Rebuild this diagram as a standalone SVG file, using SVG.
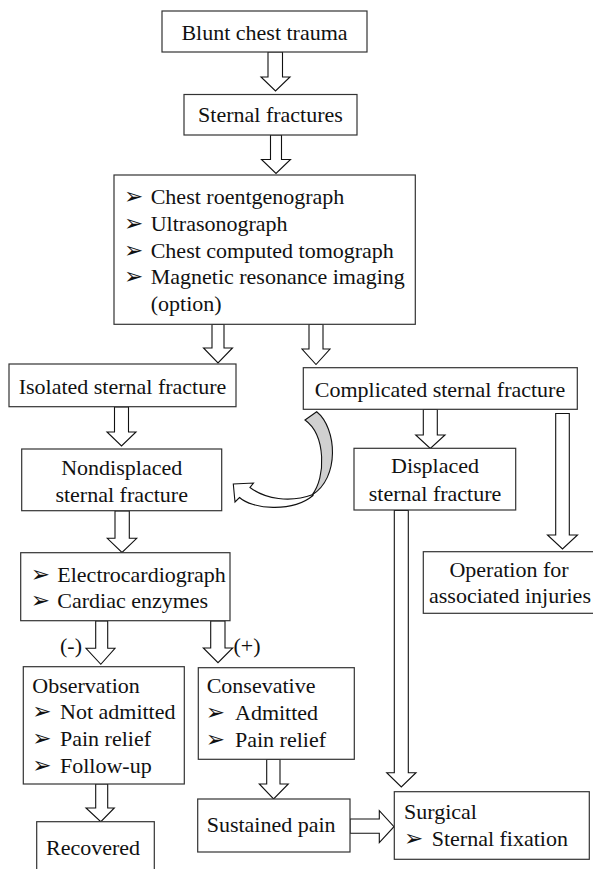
<svg xmlns="http://www.w3.org/2000/svg" width="593" height="869" viewBox="0 0 593 869">
<defs>
<style>
.box{fill:#fff;stroke:#333;stroke-width:1.2}
.arr{fill:#fff;stroke:#111;stroke-width:1.1;stroke-linejoin:miter}
text{font-family:"Liberation Serif","Times New Roman","DejaVu Serif",serif;font-size:22px;fill:#111}
.c{text-anchor:middle}
.b{font-family:"DejaVu Sans",sans-serif;font-size:23px}
</style>
</defs>
<rect width="593" height="869" fill="#fff"/>
<g id="connectors">
<polygon class="arr" points="268,52 282.5,52 282.5,77 290,77 275.5,91 261,77 268,77"/>
<polygon class="arr" points="270.5,135 281.5,135 281.5,159.5 290.5,159.5 276,173.5 261.5,159.5 270.5,159.5"/>
<polygon class="arr" points="212,324.5 224,324.5 224,348 232.5,348 218,363 203.5,348 212,348"/>
<polygon class="arr" points="309,324.5 323,324.5 323,349 330,349 316,364.5 302,349 309,349"/>
<polygon class="arr" points="114.5,407 128.5,407 128.5,432 136,432 121.5,446 107,432 114.5,432"/>
<polygon class="arr" points="423.3,409.5 437.3,409.5 437.3,435 445,435 430.3,448.5 415.7,435 423.3,435"/>
<polygon class="arr" points="555.7,413.5 569.3,413.5 569.3,535 577.5,535 562.5,549 547.5,535 555.7,535"/>
<polygon class="arr" points="115,511 129.3,511 129.3,538.3 136.7,538.3 122,552.5 107.3,538.3 115,538.3"/>
<polygon class="arr" points="95.7,621 107.7,621 107.7,648.3 115,648.3 100.8,664.3 86,648.3 95.7,648.3"/>
<polygon class="arr" points="210.7,621 225,621 225,648 232.7,648 218,662.7 203.3,648 210.7,648"/>
<polygon class="arr" points="266.7,759.5 280,759.5 280,784 288.3,784 273.6,799 259.3,784 266.7,784"/>
<polygon class="arr" points="95.7,784 107.7,784 107.7,808 114.3,808 100.8,821.7 86,808 95.7,808"/>
<polygon class="arr" points="394.3,510.5 408.3,510.5 408.3,772.7 416,772.7 401.3,787 386.7,772.7 394.3,772.7"/>
<polygon class="arr" points="350,819 379.3,819 379.3,810.7 394,826.7 379.3,842.7 379.3,833.3 350,833.3"/>
<path fill="#d0d0d0" stroke="#111" stroke-width="1.1" d="M305,420 L316.7,411.7 C337,428 340,478 312,495 C326,478 326,435 305,420 Z"/>
<path class="arr" d="M313,494.5 C290,503 265,499 250,487.5 L253.5,483 L233.3,484 L235,502 L239.5,497.5 C252,509 292,513 313,495.5 Z"/>
<text x="71" y="653.3" class="c">(-)</text>
<text x="247" y="653" class="c">(+)</text>
</g>
<g id="n1"><rect class="box" x="162" y="11" width="205" height="41"/><text x="264.5" y="40" class="c">Blunt chest trauma</text></g>
<g id="n2"><rect class="box" x="184" y="94.5" width="173" height="40.5"/><text x="270.5" y="121.7" class="c">Sternal fractures</text></g>
<g id="n3"><rect class="box" x="114" y="175" width="301.3" height="149.3"/>
<text x="124" y="204.3" class="b">➢</text><text x="150.7" y="204.3">Chest roentgenograph</text>
<text x="124" y="231" class="b">➢</text><text x="150.7" y="231">Ultrasonograph</text>
<text x="124" y="257.5" class="b">➢</text><text x="150.7" y="257.5">Chest computed tomograph</text>
<text x="124" y="284" class="b">➢</text><text x="150.7" y="284">Magnetic resonance imaging</text>
<text x="150.7" y="311">(option)</text></g>
<g id="n4"><rect class="box" x="9" y="364" width="227" height="42.7"/><text x="122.5" y="394.3" class="c">Isolated sternal fracture</text></g>
<g id="n5"><rect class="box" x="303.3" y="367.7" width="274" height="41.6"/><text x="440" y="396.7" class="c">Complicated sternal fracture</text></g>
<g id="n6"><rect class="box" x="21.7" y="449" width="200" height="61.7"/><text x="121.7" y="475" class="c">Nondisplaced</text><text x="121.7" y="501.7" class="c">sternal fracture</text></g>
<g id="n7"><rect class="box" x="354" y="448.3" width="161.7" height="61.7"/><text x="435" y="473.3" class="c">Displaced</text><text x="435" y="501" class="c">sternal fracture</text></g>
<g id="n8"><rect class="box" x="423.3" y="551.7" width="175" height="61.6"/><text x="509" y="576.7" class="c">Operation for</text><text x="510" y="603.3" class="c">associated injuries</text></g>
<g id="n9"><rect class="box" x="20.7" y="552.7" width="209.3" height="68"/>
<text x="30.7" y="581.7" class="b">➢</text><text x="57.3" y="581.7">Electrocardiograph</text>
<text x="30.7" y="608.3" class="b">➢</text><text x="57.3" y="608.3">Cardiac enzymes</text></g>
<g id="n10"><rect class="box" x="23.3" y="666.7" width="161" height="117.3"/>
<text x="32.3" y="692.7">Observation</text>
<text x="32.3" y="719.3" class="b">➢</text><text x="60" y="719.3">Not admitted</text>
<text x="32.3" y="746" class="b">➢</text><text x="60" y="746">Pain relief</text>
<text x="32.3" y="772.7" class="b">➢</text><text x="60" y="772.7">Follow-up</text></g>
<g id="n11"><rect class="box" x="198.3" y="667.7" width="156" height="91.6"/>
<text x="206.7" y="693.3">Consevative</text>
<text x="205.7" y="720" class="b">➢</text><text x="235" y="720">Admitted</text>
<text x="205.7" y="746.7" class="b">➢</text><text x="235" y="746.7">Pain relief</text></g>
<g id="n12"><rect class="box" x="197.7" y="799" width="152.3" height="53"/><text x="206.7" y="831.7">Sustained pain</text></g>
<g id="n13"><rect class="box" x="394.3" y="791.7" width="195" height="67.6"/>
<text x="404" y="819.3">Surgical</text>
<text x="404" y="846" class="b">➢</text><text x="431.7" y="846">Sternal fixation</text></g>
<g id="n14"><rect class="box" x="36.7" y="821.7" width="117.6" height="60"/><text x="46" y="855">Recovered</text></g>
</svg>
